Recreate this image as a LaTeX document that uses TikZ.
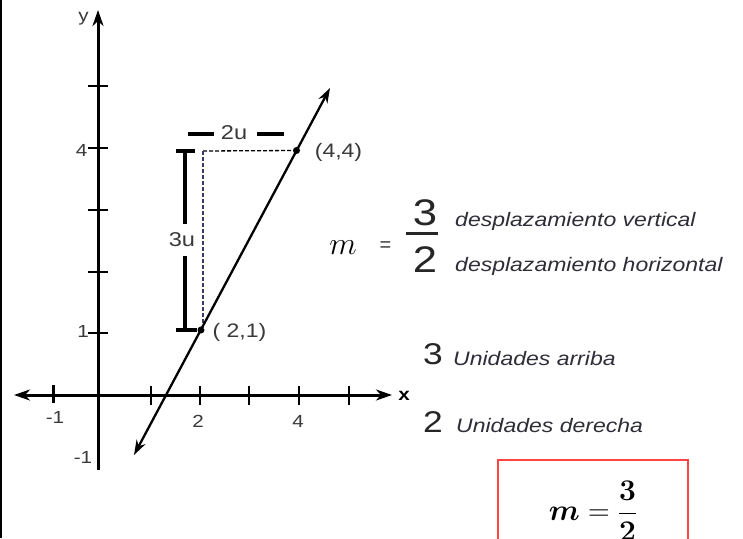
\RequirePackage{fix-cm}
\documentclass[tikz,border=0pt]{standalone}
\usepackage{fontspec}
\usepackage{amsmath,bm}
\setmainfont{Liberation Sans}
\newfontfamily\wsans[FakeStretch=1.18]{Liberation Sans}
\usetikzlibrary{arrows.meta}
\definecolor{labgray}{HTML}{3A3A3A}
\definecolor{txtgray}{HTML}{2E2E38}
\definecolor{boxred}{HTML}{FF4444}
\definecolor{dashblue}{HTML}{3A3A6A}
\begin{document}
\begin{tikzpicture}[x=1pt,y=-1pt,
  axis/.style={line width=3pt,black},
  tickmark/.style={line width=1.4pt,black},
  bar/.style={line width=3.5pt,black},
  guide/.style={line width=1.3pt,dash pattern=on 4pt off 2pt},
  numlbl/.style={inner sep=0pt,text=labgray,font=\wsans\fontsize{17.5}{17.5}\selectfont},
  ulbl/.style={inner sep=0pt,text=labgray,font=\wsans\fontsize{20}{20}\selectfont},
  ptlbl/.style={inner sep=0pt,text=labgray,font=\wsans\fontsize{19.5}{19.5}\selectfont},
  desc/.style={inner sep=0pt,text=txtgray,font=\wsans\itshape\fontsize{19.5}{19.5}\selectfont},
  bignum/.style={inner sep=0pt,text=black!85,font=\wsans\fontsize{37}{37}\selectfont},
  midnum/.style={inner sep=0pt,text=black!85,font=\wsans\fontsize{30}{30}\selectfont},
  dot/.style={circle,fill=black,inner sep=0pt,minimum size=7pt},
  tip/.style={-{Stealth[length=16pt,width=11pt,inset=5pt]}}
]
\useasboundingbox (0,0) rectangle (743,538);
\fill[white] (0,0) rectangle (743,538);
\draw[line width=1.5pt] (0.75,0) -- (0.75,538);

% axes
\coordinate (yb) at (98,470);
\coordinate (yt) at (98,10);
\coordinate (xl) at (14,395);
\coordinate (xr) at (392,395);
\draw[axis,tip] (yb) -- (yt);
\draw[axis,{Stealth[length=16pt,width=11pt,inset=5pt]}-{Stealth[length=16pt,width=11pt,inset=5pt]}] (xl) -- (xr);

% y ticks
\foreach \yy in {86,148,210,272,333} \draw[tickmark] (88,\yy) -- (108,\yy);
% x ticks
\foreach \xx in {151,200,249,299,349} \draw[tickmark] (\xx,386) -- (\xx,405);
\draw[line width=3pt] (53,385) -- (53,403);

% axis labels
\node[numlbl] (ylab) at (83.5,19) {y};
\node[numlbl,text=black,font=\wsans\bfseries\fontsize{17.5}{17.5}\selectfont] (xlab) at (404,396) {x};
\node[numlbl] (xm1) at (55,417) {-1};
\node[numlbl] (x2) at (198,421) {2};
\node[numlbl] (x4) at (298,421) {4};
\node[numlbl] (y4) at (81.5,150) {4};
\node[numlbl] (y1) at (83,331) {1};
\node[numlbl] (ym1) at (83,457) {-1};

% guide lines
\coordinate (corner) at (203,151);
\node[dot] (p1) at (201,330) {};
\node[dot] (p2) at (296.5,150.5) {};
\draw[guide] (corner) -- (p2.center);
\draw[guide,dashblue] (corner) -- (corner |- p1.center);

% main line
\coordinate (ls) at (134,455);
\coordinate (le) at (330,88);
\draw[line width=2.3pt,{Stealth[length=15pt,width=10pt,inset=5pt]}-{Stealth[length=15pt,width=10pt,inset=5pt]}] (ls) -- (le);

\node[ptlbl] (l44) at (338.5,152) {(4,4)};
\node[ptlbl] (l21) at (239.5,332) {( 2,1)};

% 3u bracket
\node[ulbl] (u3) at (182,240) {3u};
\coordinate (b3t) at (185,151);
\coordinate (b3b) at (185,330);
\coordinate (b3m1) at (185,224);
\coordinate (b3m2) at (185,256);
\draw[bar] (b3t) -- (b3m1);
\draw[bar] (b3m2) -- (b3b);
\draw[line width=3.5pt] (176,151) -- (195,151);
\draw[line width=3.5pt] (176,330) -- (197,330);

% 2u bracket
\node[ulbl] (u2) at (234,133) {2u};
\draw[bar] (188,134) -- (214,134);
\draw[bar] (257,134) -- (284,134);

% slope formula
\node[inner sep=0pt,anchor=base,font=\fontsize{32}{32}\selectfont] (mm) at (343,254) {$m$};
\node[inner sep=0pt,font=\fontsize{20}{20}\selectfont,text=labgray] (eq) at (385.5,247) {=};
\node[bignum,anchor=base] (n3) at (425,225) {3};
\node[bignum,anchor=base] (d2) at (425,272) {2};
\draw[line width=3pt,black!85] (406,233) -- (438,233);
\node[desc,anchor=base west] (dv) at (455,226) {desplazamiento vertical};
\node[desc,anchor=base west] (dh) at (455,271) {desplazamiento horizontal};

% unit counts
\node[midnum,anchor=base] (c3) at (433,364) {3};
\node[desc,anchor=base west] (ua) at (453,365) {Unidades arriba};
\node[midnum,anchor=base] (c2) at (433,432) {2};
\node[desc,anchor=base west] (ud) at (456,432) {Unidades derecha};

% boxed result
\draw[boxred,line width=1.5pt] (498,460) rectangle (688,560);
\node[inner sep=0pt,font=\fontsize{30}{30}\selectfont] (res) at (593,511) {$\bm{m}=\dfrac{\bm{3}}{\bm{2}}$};
\end{tikzpicture}
\end{document}
